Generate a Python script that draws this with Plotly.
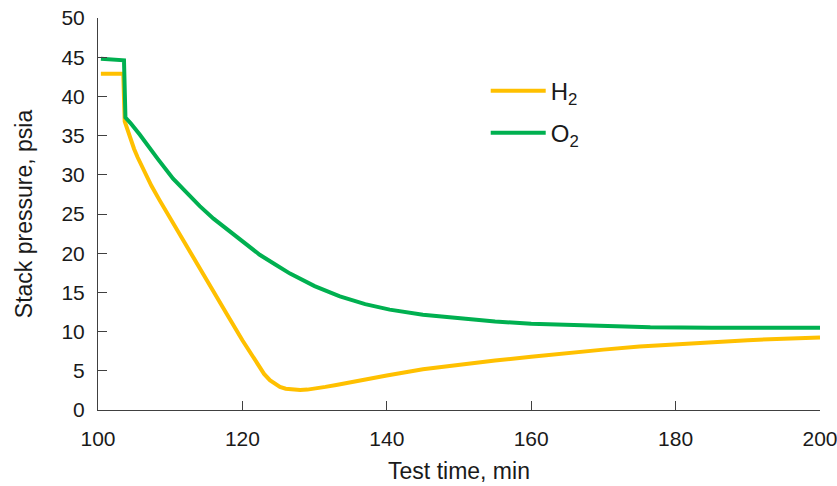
import plotly.graph_objects as go

# H2 stack pressure (psia) vs test time (min)
h2_time = [100.4, 103.5, 103.7, 104.0, 104.5, 105.0, 105.5, 106.0, 106.7, 107.4, 108.5,
           110.0, 112.0, 114.0, 116.0, 118.0, 120.0, 121.0, 122.0, 123.0, 123.8, 124.5,
           125.2, 126.0, 127.0, 128.0, 129.0, 130.0, 131.5, 133.0, 136.0, 140.0, 145.0,
           150.0, 155.0, 160.0, 165.0, 170.0, 175.0, 180.0, 185.0, 190.0, 195.0, 200.0]
h2_pressure = [42.9, 42.9, 36.8, 35.9, 34.5, 33.3, 32.2, 31.2, 29.9, 28.6, 26.8,
               24.5, 21.4, 18.3, 15.2, 12.0, 8.9, 7.4, 5.9, 4.6, 3.8, 3.3,
               2.95, 2.72, 2.58, 2.55, 2.6, 2.7, 2.95, 3.2, 3.75, 4.4, 5.2,
               5.8, 6.3, 6.8, 7.3, 7.7, 8.1, 8.4, 8.7, 8.9, 9.1, 9.25]

# O2 stack pressure (psia) vs test time (min)
o2_time = [100.4, 103.6, 103.8, 104.5, 105.8, 107.0, 108.3, 110.4, 112.0, 114.1, 116.0,
           118.7, 120.5, 122.4, 124.5, 126.6, 130.0, 133.5, 137.0, 140.4, 145.0, 149.7,
           155.0, 160.0, 165.0, 170.0, 176.5, 185.0, 200.0]
o2_pressure = [44.8, 44.6, 37.3, 36.6, 35.1, 33.7, 32.0, 29.5, 28.0, 26.0, 24.4,
               22.4, 21.1, 19.8, 18.6, 17.4, 15.8, 14.5, 13.5, 12.8, 12.15, 11.7,
               11.3, 11.0, 10.85, 10.7, 10.55, 10.5, 10.5]

series_names = ["H<sub>2</sub>", "O<sub>2</sub>"]
x_ticks = [100, 120, 140, 160, 180, 200]
y_ticks = [0, 5, 10, 15, 20, 25, 30, 35, 40, 45, 50]

FONT = "Liberation Sans, Arial, sans-serif"
AXIS_COLOR = "#404040"
TEXT_COLOR = "#1a1a1a"

fig = go.Figure()
fig.add_trace(go.Scatter(x=h2_time, y=h2_pressure, mode="lines", name=series_names[0],
                         legendgroup="h2",
                         line=dict(color="#FFC000", width=4)))
fig.add_trace(go.Scatter(x=o2_time, y=o2_pressure, mode="lines", name=series_names[1],
                         legendgroup="o2",
                         line=dict(color="#00B050", width=4)))

fig.update_layout(
    width=837, height=486,
    margin=dict(l=98, r=17, t=18, b=76),
    paper_bgcolor="white", plot_bgcolor="white",
    font=dict(family=FONT, size=21, color=TEXT_COLOR),
    showlegend=True,
    legend=dict(x=0.537, y=0.871, xanchor="left", yanchor="top",
                font=dict(family=FONT, size=24, color=TEXT_COLOR),
                bgcolor="rgba(0,0,0,0)", tracegroupgap=8, itemwidth=55),
)
fig.update_xaxes(range=[100, 200], tickvals=x_ticks, ticks="inside", ticklen=9,
                 tickcolor=AXIS_COLOR, showline=True, linecolor=AXIS_COLOR, linewidth=1,
                 showgrid=False, zeroline=False, ticklabelstandoff=10,
                 ticklabeloverflow="allow", automargin=False,
                 title=dict(text="Test time, min", standoff=13,
                            font=dict(family=FONT, size=23, color=TEXT_COLOR)))
fig.update_yaxes(range=[0, 50], tickvals=y_ticks, ticks="inside", ticklen=9,
                 tickcolor=AXIS_COLOR, showline=True, linecolor=AXIS_COLOR, linewidth=1,
                 showgrid=False, zeroline=False, ticklabelstandoff=8,
                 ticklabeloverflow="allow", automargin=False,
                 title=dict(text="Stack pressure, psia", standoff=22,
                            font=dict(family=FONT, size=23, color=TEXT_COLOR)))

fig.write_html("out.html")
